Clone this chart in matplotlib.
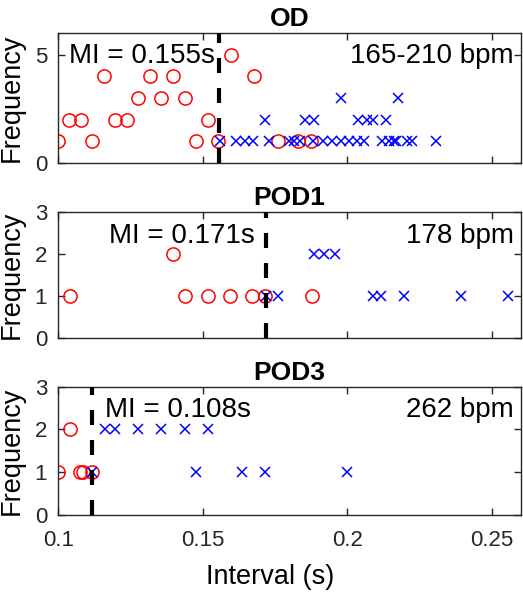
import matplotlib
matplotlib.use("Agg")
import matplotlib.pyplot as plt

plt.rcParams['font.family'] = ['Liberation Sans', 'DejaVu Sans']

# OD panel
od_red_x = [0.1, 0.1115, 0.1478, 0.1553, 0.176, 0.1829, 0.1875,
            0.1038, 0.1077, 0.1196, 0.1238, 0.1518,
            0.1276, 0.1357, 0.1437,
            0.1158, 0.1317, 0.1397, 0.1679,
            0.1599]
od_red_y = [1, 1, 1, 1, 1, 1, 1,
            2, 2, 2, 2, 2,
            3, 3, 3,
            4, 4, 4, 4,
            5]
od_blue_x = [0.1558, 0.1616, 0.1645, 0.1673, 0.1731, 0.1800, 0.1817, 0.1835,
             0.1881, 0.1917, 0.1949, 0.1979, 0.2007, 0.2035, 0.2059, 0.2121,
             0.2145, 0.2162, 0.2169, 0.2208, 0.2225, 0.2308,
             0.1717, 0.1855, 0.1886, 0.2036, 0.2070, 0.2088, 0.2135,
             0.1979, 0.2177]
od_blue_y = [1] * 22 + [2] * 7 + [3] * 2

# POD1 panel
pod1_red_x = [0.1040, 0.1437, 0.1518, 0.1593, 0.1671, 0.1717, 0.1877, 0.1397]
pod1_red_y = [1, 1, 1, 1, 1, 1, 1, 2]
pod1_blue_x = [0.1720, 0.1760, 0.2088, 0.2117, 0.2195, 0.2393, 0.2556,
               0.1886, 0.1921, 0.1957]
pod1_blue_y = [1] * 7 + [2] * 3

# POD3 panel
pod3_red_x = [0.1, 0.1075, 0.1086, 0.1115, 0.1040]
pod3_red_y = [1, 1, 1, 1, 2]
pod3_blue_x = [0.1115, 0.1478, 0.1637, 0.1717, 0.1998,
               0.1161, 0.1196, 0.1276, 0.1357, 0.1437, 0.1518]
pod3_blue_y = [1] * 5 + [2] * 6

titles = ['OD', 'POD1', 'POD3']
mi_line = [0.1557, 0.1718, 0.1118]
mi_text = ['MI = 0.155s', 'MI = 0.171s', 'MI = 0.108s']
bpm_text = ['165-210 bpm', '178 bpm', '262 bpm']
ylims = [6, 3, 3]
yticks = [[0, 5], [0, 1, 2, 3], [0, 1, 2, 3]]
xticks = [0.1, 0.15, 0.2, 0.25]
xticklabels = ['0.1', '0.15', '0.2', '0.25']

reds = [(od_red_x, od_red_y), (pod1_red_x, pod1_red_y), (pod3_red_x, pod3_red_y)]
blues = [(od_blue_x, od_blue_y), (pod1_blue_x, pod1_blue_y), (pod3_blue_x, pod3_blue_y)]

fig = plt.figure(figsize=(5.23, 6.0), dpi=100)
rects = [[0.1115, 0.7283, 0.8838, 0.2167],
         [0.1115, 0.4367, 0.8838, 0.2105],
         [0.1115, 0.1417, 0.8838, 0.2138]]
# MI label: (x in data, alignment); baseline y in axes fraction
mi_pos = [(0.1541, 'right'), (0.1679, 'right'), (0.1161, 'left')]
text_y = [0.77, 0.75, 0.766]

gray = (0.15, 0.15, 0.15)
for i in range(3):
    ax = fig.add_axes(rects[i])
    rx, ry = reds[i]
    bx, by = blues[i]
    ax.plot(rx, ry, 'o', mfc='none', mec='red', ms=9.5, mew=1.1, zorder=2)
    ax.plot(bx, by, 'x', color='blue', ms=7.8, mew=1.1, zorder=3)
    ax.plot([mi_line[i], mi_line[i]], [0, ylims[i]], color='black', lw=3,
            dashes=(3.6, 3.6), zorder=4)
    ax.set_xlim(0.1, 0.26)
    ax.set_ylim(0, ylims[i])
    ax.set_yticks(yticks[i])
    ax.set_xticks(xticks)
    if i == 2:
        ax.set_xticklabels(xticklabels)
        ax.set_xlabel('Interval (s)', fontsize=19.5, labelpad=9)
        # xlabel sits a bit left of the axes centre in the reference
        ax.xaxis.label.set_x(0.459)
    else:
        ax.set_xticklabels([])
    ax.set_ylabel('Frequency', fontsize=19.5)
    ax.yaxis.set_label_coords(-0.072, 0.5)
    ax.set_title(titles[i], fontsize=19, fontweight='bold', pad=5)
    ax.tick_params(direction='in', top=True, right=True, length=5,
                   width=1, color=gray, labelcolor=gray, labelsize=16)
    ax.tick_params(axis='x', pad=11)
    ax.tick_params(axis='y', pad=8)
    for sp in ax.spines.values():
        sp.set_color(gray)
        sp.set_linewidth(1)
    mx, ha = mi_pos[i]
    ax.text(mx, text_y[i], mi_text[i], transform=ax.get_xaxis_transform(),
            ha=ha, va='baseline', fontsize=20, color='black')
    ax.text(0.986, text_y[i], bpm_text[i], transform=ax.transAxes,
            ha='right', va='baseline', fontsize=20, color='black')

fig.savefig('out.png', dpi=100)
